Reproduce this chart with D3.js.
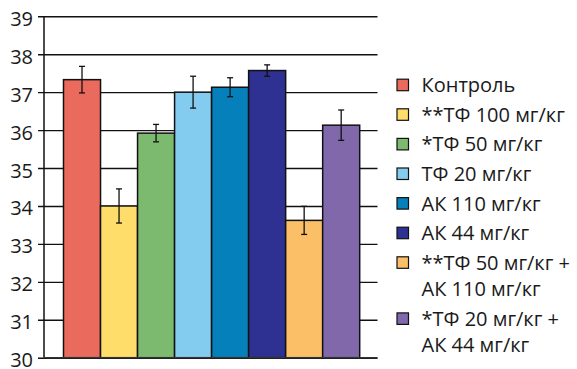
<!DOCTYPE html>
<html>
<head>
<meta charset="utf-8">
<script src="https://cdn.jsdelivr.net/npm/d3@7"></script>
<style>
  html, body { margin: 0; padding: 0; background: #fff; }
  svg { display: block; }
  text { font-family: "Open Sans", "Noto Sans", sans-serif; fill: #1a1a1a; }
</style>
</head>
<body>
<svg id="chart" width="577" height="369"></svg>
<script>
// Group labels (legend text, may wrap onto two lines)
const groups = [
  ["Контроль"],
  ["**ТФ 100 мг/кг"],
  ["*ТФ 50 мг/кг"],
  ["ТФ 20 мг/кг"],
  ["АК 110 мг/кг"],
  ["АК 44 мг/кг"],
  ["**ТФ 50 мг/кг +", "АК 110 мг/кг"],
  ["*ТФ 20 мг/кг +", "АК 44 мг/кг"]
];
// Mean values and error half-widths per group
const means  = [37.33, 34.0, 35.92, 37.0, 37.13, 37.57, 33.62, 36.13];
const errors = [0.35, 0.45, 0.23, 0.42, 0.25, 0.15, 0.37, 0.40];
const colors = ["#EA6B5D", "#FEDD6A", "#7BBA6F", "#84CBF0", "#0680BA", "#2E3192", "#FBBF68", "#8068AA"];
const yTicks = [30, 31, 32, 33, 34, 35, 36, 37, 38, 39];

const svg = d3.select("#chart");
const idx = d3.range(means.length);

const x = d3.scaleBand().domain(idx).range([63.5, 359.7]).paddingInner(0).paddingOuter(0);
const y = d3.scaleLinear().domain([30, 39]).range([357.7, 16.3]);

// Gridlines + tick labels
const axisX = 38, plotRight = 377.5;
const gAxis = svg.append("g")
  .attr("transform", `translate(${axisX},0)`)
  .call(d3.axisLeft(y).tickValues(yTicks).tickFormat(d3.format("d"))
    .tickSizeInner(-(plotRight - axisX)).tickSizeOuter(0).tickPadding(5));
gAxis.select(".domain").remove();
gAxis.selectAll(".tick line").attr("stroke", "#111").attr("stroke-width", 1.4);
gAxis.selectAll(".tick text")
  .attr("font-size", 20).attr("dy", "0.45em")
  .style("font-family", "'Open Sans', sans-serif").attr("fill", "#1a1a1a");

// Bars
svg.append("g").selectAll("rect").data(idx).join("rect")
  .attr("x", i => x(i))
  .attr("y", i => y(means[i]))
  .attr("width", x.bandwidth())
  .attr("height", i => y(30) - y(means[i]))
  .attr("fill", i => colors[i])
  .attr("stroke", "#111").attr("stroke-width", 1.5);

// Error bars
const eb = svg.append("g").attr("stroke", "#111").attr("stroke-width", 1.3);
idx.forEach(i => {
  const cx = x(i) + x.bandwidth() / 2;
  const top = y(means[i] + errors[i]), bot = y(means[i] - errors[i]);
  eb.append("line").attr("x1", cx).attr("x2", cx).attr("y1", top).attr("y2", bot);
  eb.append("line").attr("x1", cx - 3).attr("x2", cx + 3).attr("y1", top).attr("y2", top);
  eb.append("line").attr("x1", cx - 3).attr("x2", cx + 3).attr("y1", bot).attr("y2", bot);
});

// Y axis line and baseline
svg.append("line").attr("x1", 44).attr("x2", 44).attr("y1", y(39)).attr("y2", y(30))
  .attr("stroke", "#111").attr("stroke-width", 1.5);
svg.append("line").attr("x1", 44).attr("x2", plotRight).attr("y1", y(30)).attr("y2", y(30))
  .attr("stroke", "#333").attr("stroke-width", 1.5);

// Legend
const legend = svg.append("g");
let ly = 85;
const lineH = 26.5, itemGap = 29.6;
groups.forEach((lines, i) => {
  legend.append("rect")
    .attr("x", 397).attr("y", ly - 5.8).attr("width", 11.5).attr("height", 11.5)
    .attr("fill", colors[i]).attr("stroke", "#111").attr("stroke-width", 1.2);
  lines.forEach((t, k) => {
    legend.append("text").attr("x", 421.5).attr("y", ly + k * lineH)
      .attr("dy", "0.36em").attr("font-size", 20).text(t);
  });
  ly += itemGap + (lines.length - 1) * lineH;
});
</script>
</body>
</html>
